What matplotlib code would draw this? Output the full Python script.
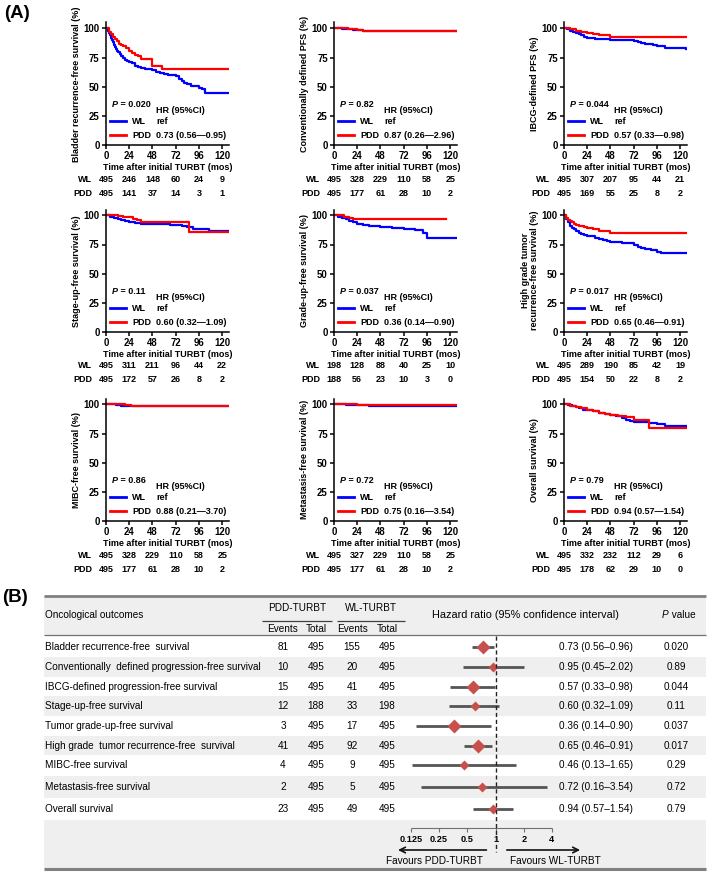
import matplotlib
matplotlib.use("Agg")
import matplotlib.pyplot as plt
import matplotlib.transforms as mtransforms
from matplotlib.lines import Line2D
import numpy as np

plt.rcParams['font.family'] = ['Liberation Sans Narrow', 'Liberation Sans', 'DejaVu Sans']

#### DATA panel A (KM curves)
months = [0, 24, 48, 72, 96, 120]

bladder_wl = ([0, 2, 3, 4, 5, 6, 7, 8, 9, 10, 11, 12, 14, 16, 18, 20, 22, 24, 27, 30, 33, 36, 40, 44, 48, 52, 56, 60, 64, 68, 72, 75, 78, 81, 84, 88, 92, 96, 99, 102, 126],
              [100, 98, 96, 94, 92, 90, 88, 86, 84, 82, 81, 80, 78, 76, 75, 73, 72, 71, 70, 68, 67, 66, 65, 65, 64, 63, 62, 61, 60, 60, 59, 57, 55, 53, 52, 51, 51, 49, 48, 45, 45])
bladder_pdd = ([0, 3, 5, 7, 9, 11, 13, 15, 18, 21, 24, 27, 30, 33, 36, 48, 58, 126],
               [100, 97, 95, 93, 91, 89, 87, 86, 85, 83, 81, 79, 77, 76, 74, 68, 65, 65])
conv_wl = ([0, 8, 14, 20, 30, 44, 126], [100, 99.6, 99.2, 98.4, 98, 97.4, 97.4])
conv_pdd = ([0, 14, 18, 24, 30, 36, 126], [100, 99.5, 99, 98.5, 98, 98, 98])
ibcg_wl = ([0, 3, 6, 9, 12, 15, 18, 21, 24, 28, 32, 36, 48, 60, 72, 76, 80, 84, 92, 96, 104, 126],
           [100, 99, 98, 97, 96, 95, 94, 93, 92, 91.5, 91, 90.5, 90, 90, 89.5, 88.5, 87.5, 87, 85.5, 85, 83, 82.5])
ibcg_pdd = ([0, 6, 12, 18, 24, 30, 36, 42, 48, 126], [100, 99, 98, 97, 96, 95, 94, 94, 92.5, 92.5])
stage_wl = ([0, 4, 8, 12, 16, 20, 24, 30, 36, 48, 60, 66, 72, 78, 84, 90, 106, 126],
            [100, 99, 98, 97, 96, 95, 94, 93.5, 93, 93, 92.5, 92, 91.5, 91, 90, 88.5, 86.5, 86.5])
stage_pdd = ([0, 12, 18, 24, 28, 32, 36, 86, 126], [100, 99.5, 99, 98.5, 97, 96, 94, 86, 86])
grade_wl = ([0, 4, 8, 12, 16, 20, 24, 30, 36, 48, 60, 72, 84, 92, 96, 126],
            [100, 99, 98, 96.5, 95.5, 94, 92.5, 91.5, 91, 90, 89, 88, 87.5, 85, 81, 81])
grade_pdd = ([0, 10, 15, 20, 116], [100, 99, 98, 97, 97])
hg_wl = ([0, 2, 4, 6, 8, 10, 12, 15, 18, 21, 24, 28, 32, 36, 40, 44, 48, 54, 60, 66, 72, 76, 80, 84, 90, 96, 100, 126],
         [100, 97, 94, 91, 89, 88, 87, 85, 84, 83, 82.5, 82, 81, 80, 79, 78, 77.5, 77, 76.5, 76, 75, 73, 72, 71, 70, 69, 68, 68])
hg_pdd = ([0, 2, 4, 6, 8, 10, 12, 15, 18, 21, 24, 30, 36, 42, 48, 126],
          [100, 98, 96, 95, 94, 93, 92, 91, 90.5, 90, 89, 88, 87, 87, 85, 85])
mibc_wl = ([0, 10, 16, 22, 126], [100, 99.5, 99, 98.5, 98.5])
mibc_pdd = ([0, 20, 26, 126], [100, 99.5, 99, 99])
meta_wl = ([0, 12, 24, 36, 44, 126], [100, 99.6, 99.2, 98.8, 98.4, 98.4])
meta_pdd = ([0, 24, 30, 126], [100, 99.6, 99.2, 99.2])
os_wl = ([0, 4, 8, 12, 16, 20, 24, 30, 36, 42, 48, 54, 60, 64, 68, 72, 80, 88, 96, 104, 126],
         [100, 99.5, 98.5, 97.5, 96.5, 95.5, 95, 94, 93, 92, 91, 90, 88, 87, 86, 85, 84.5, 84, 83, 81.5, 81.5])
os_pdd = ([0, 6, 12, 18, 24, 30, 36, 42, 48, 56, 64, 72, 88, 126],
          [100, 99, 98, 96.5, 95, 94, 93, 92, 91, 90, 89, 87, 80, 80])

km_wl = [bladder_wl, conv_wl, ibcg_wl, stage_wl, grade_wl, hg_wl, mibc_wl, meta_wl, os_wl]
km_pdd = [bladder_pdd, conv_pdd, ibcg_pdd, stage_pdd, grade_pdd, hg_pdd, mibc_pdd, meta_pdd, os_pdd]

ylabels = ["Bladder recurrence-free survival (%)", "Conventionally defined PFS (%)",
           "IBCG-defined PFS (%)", "Stage-up-free survival (%)", "Grade-up-free survival (%)",
           "High grade tumor\nrecurrence-free survival (%)", "MIBC-free survival (%)",
           "Metastasis-free survival (%)", "Overall survival (%)"]
p_km = ["0.020", "0.82", "0.044", "0.11", "0.037", "0.017", "0.86", "0.72", "0.79"]
hr_km = ["0.73 (0.56\u20140.95)", "0.87 (0.26\u20142.96)", "0.57 (0.33\u20140.98)",
         "0.60 (0.32\u20141.09)", "0.36 (0.14\u20140.90)", "0.65 (0.46\u20140.91)",
         "0.88 (0.21\u20143.70)", "0.75 (0.16\u20143.54)", "0.94 (0.57\u20141.54)"]
risk_wl = [[495, 246, 148, 60, 24, 9], [495, 328, 229, 110, 58, 25], [495, 307, 207, 95, 44, 21],
           [495, 311, 211, 96, 44, 22], [198, 128, 88, 40, 25, 10], [495, 289, 190, 85, 42, 19],
           [495, 328, 229, 110, 58, 25], [495, 327, 229, 110, 58, 25], [495, 332, 232, 112, 29, 6]]
risk_pdd = [[495, 141, 37, 14, 3, 1], [495, 177, 61, 28, 10, 2], [495, 169, 55, 25, 8, 2],
            [495, 172, 57, 26, 8, 2], [188, 56, 23, 10, 3, 0], [495, 154, 50, 22, 8, 2],
            [495, 177, 61, 28, 10, 2], [495, 177, 61, 28, 10, 2], [495, 178, 62, 29, 10, 0]]

#### DATA panel B (forest table)
outcomes = ["Bladder recurrence-free  survival", "Conventionally  defined progression-free survival",
            "IBCG-defined progression-free survival", "Stage-up-free survival",
            "Tumor grade-up-free survival", "High grade  tumor recurrence-free  survival",
            "MIBC-free survival", "Metastasis-free survival", "Overall survival"]
pdd_events = [81, 10, 15, 12, 3, 41, 4, 2, 23]
pdd_total = [495, 495, 495, 188, 495, 495, 495, 495, 495]
wl_events = [155, 20, 41, 33, 17, 92, 9, 5, 49]
wl_total = [495, 495, 495, 198, 495, 495, 495, 495, 495]
hr = [0.73, 0.95, 0.57, 0.60, 0.36, 0.65, 0.46, 0.72, 0.94]
hr_lo = [0.56, 0.45, 0.33, 0.32, 0.14, 0.46, 0.13, 0.16, 0.57]
hr_hi = [0.96, 2.02, 0.98, 1.09, 0.90, 0.91, 1.65, 3.54, 1.54]
p_tab = ["0.020", "0.89", "0.044", "0.11", "0.037", "0.017", "0.29", "0.72", "0.79"]
hr_ticks = [0.125, 0.25, 0.5, 1, 2, 4]
hr_tick_labels = ["0.125", "0.25", "0.5", "1", "2", "4"]

#%% FIGURE
W, H = 709, 874
fig = plt.figure(figsize=(W / 100, H / 100), dpi=100)

def px_axes(left, top, width, height):
    return fig.add_axes([left / W, 1 - (top + height) / H, width / W, height / H])

BLUE, RED = "#0000ff", "#ff0000"
fs = 6.5
col_left = [106, 334, 564]
row_origin = [145, 332, 521]
ax_w, ax_h = 123, 122.5

fig.text(4 / W, 1 - 14 / H, "(A)", fontsize=13.5, fontweight="bold", family="Liberation Sans", va="center")
fig.text(2 / W, 1 - 597 / H, "(B)", fontsize=13.5, fontweight="bold", family="Liberation Sans", va="center")

for i in range(9):
    r, c = divmod(i, 3)
    ax = px_axes(col_left[c], row_origin[r] - ax_h, ax_w, ax_h)
    t, s = km_wl[i]
    ax.step(t, s, where="post", color=BLUE, lw=1.6)
    t, s = km_pdd[i]
    ax.step(t, s, where="post", color=RED, lw=1.6)

    ax.set_xlim(0, 127)
    ax.set_ylim(0, 105)
    ax.set_xticks(months)
    ax.set_yticks([0, 25, 50, 75, 100])
    for sp in ["top", "right"]:
        ax.spines[sp].set_visible(False)
    for sp in ["left", "bottom"]:
        ax.spines[sp].set_linewidth(1.1)
    ax.tick_params(length=3, width=1.1, pad=1.5, labelsize=6.9)
    for lab in ax.get_xticklabels() + ax.get_yticklabels():
        lab.set_fontweight("bold")
    ax.set_xlabel("Time after initial TURBT (mos)", fontsize=fs, fontweight="bold", labelpad=1)
    ax.set_ylabel(ylabels[i], fontsize=fs, fontweight="bold", labelpad=2, linespacing=1.0)

    # legend block
    handles = [Line2D([], [], color=BLUE, lw=2), Line2D([], [], color=RED, lw=2)]
    ax.legend(handles, ["WL", "PDD"], loc="lower left", bbox_to_anchor=(0.035, 0.04),
              frameon=False, handlelength=1.7, handletextpad=0.7, labelspacing=0.55,
              borderpad=0, borderaxespad=0, prop=dict(weight="bold", size=fs))
    ax.text(52, 29.5, "HR (95%CI)", fontsize=fs, fontweight="bold", va="center")
    ax.text(52, 20.5, "ref", fontsize=fs, fontweight="bold", va="center")
    ax.text(52, 8.5, hr_km[i], fontsize=fs, fontweight="bold", va="center")
    tp = ax.text(6, 34.5, "P", fontsize=fs, fontweight="bold", style="italic", va="center")
    ax.annotate(" = " + p_km[i], xy=(1, 0), xycoords=tp, va="bottom", ha="left",
                fontsize=fs, fontweight="bold")

    # numbers at risk
    trans = mtransforms.blended_transform_factory(ax.transData, ax.transAxes)
    for name, vals, off in [("WL", risk_wl[i], 34), ("PDD", risk_pdd[i], 48)]:
        yy = -off / ax_h
        ax.text(-14 / ax_w, yy, name, transform=ax.transAxes, ha="right", va="center",
                fontsize=fs, fontweight="bold")
        for m, v in zip(months, vals):
            ax.text(m, yy, str(v), transform=trans, ha="center", va="center",
                    fontsize=fs, fontweight="bold")

#%% PANEL B
t_top, t_bot = 594, 872
axt = px_axes(0, t_top, W, t_bot - t_top)
axt.set_xlim(0, W)
axt.set_ylim(t_bot, t_top)
axt.axis("off")

tl, tr = 44, 706
row_y = [647, 667, 687, 706, 726, 746, 765, 787, 809]
row_edges = [636, 657, 677, 696, 716, 736, 755, 776, 798, 820]
gray = "#efefef"
axt.fill_between([tl, tr], 596, 635, color=gray, lw=0)
for k in range(9):
    if k % 2 == 1:
        axt.fill_between([tl, tr], row_edges[k], row_edges[k + 1], color=gray, lw=0)
axt.fill_between([tl, tr], row_edges[9], 869, color=gray, lw=0)

axt.hlines(596, tl, tr, color="#808080", lw=2)
axt.hlines(869, tl, tr, color="#808080", lw=2.2)
axt.hlines(635, tl, tr, color="#707070", lw=0.9)
axt.hlines(621, 262, 332, color="#404040", lw=0.9)
axt.hlines(621, 337, 405, color="#404040", lw=0.9)

tfs = 7.2
axt.text(45, 615, "Oncological outcomes", fontsize=tfs, va="center")
axt.text(297, 608, "PDD-TURBT", fontsize=tfs, va="center", ha="center")
axt.text(371, 608, "WL-TURBT", fontsize=tfs, va="center", ha="center")
for x, s in zip([283, 316, 352, 387], ["Events", "Total", "Events", "Total"]):
    axt.text(x, 629, s, fontsize=tfs, va="center", ha="center")
axt.text(525, 615, "Hazard ratio (95% confidence interval)", fontsize=7.8, va="center", ha="center")
tp = axt.text(662, 615, "P", fontsize=tfs, style="italic", va="center", ha="left")
axt.annotate(" value", xy=(1, 0), xycoords=tp, va="bottom", ha="left", fontsize=tfs)

for k in range(9):
    y = row_y[k]
    axt.text(45, y, outcomes[k], fontsize=tfs, va="center")
    for x, v in zip([283, 316, 352, 387], [pdd_events[k], pdd_total[k], wl_events[k], wl_total[k]]):
        axt.text(x, y, str(v), fontsize=tfs, va="center", ha="center")
    axt.text(596, y, "%.2f (%.2f\u2013%.2f)" % (hr[k], hr_lo[k], hr_hi[k]),
             fontsize=tfs, va="center", ha="center")
    axt.text(676, y, p_tab[k], fontsize=tfs, va="center", ha="center")

# forest part, log2 scale
x1, ppd = 495.5, 28.2
f_l, f_r = 380, 600
axf = px_axes(f_l, t_top, f_r - f_l, t_bot - t_top)
axf.set_xscale("log", base=2)
axf.set_xlim(2 ** ((f_l - x1) / ppd), 2 ** ((f_r - x1) / ppd))
axf.set_ylim(t_bot, t_top)
axf.axis("off")

box_ms = [7, 4.8, 6.8, 5.2, 6.8, 6.8, 5.2, 5.2, 5]
axf.hlines(row_y, hr_lo, hr_hi, color="#555555", lw=2.0, zorder=2)
for k in range(9):
    axf.plot(hr[k], row_y[k], marker="D", ms=box_ms[k], color="#c8504c", mec="none", zorder=3)
axf.vlines(1, 636, 852, color="#222222", lw=1.0, linestyles=(0, (3, 2)), zorder=4)

axf.hlines(828, hr_ticks[0], hr_ticks[-1], color="#707070", lw=0.8)
axf.vlines(hr_ticks, 828, 832, color="#707070", lw=0.8)
for x, s in zip(hr_ticks, hr_tick_labels):
    axf.text(x, 839, s, fontsize=6.6, fontweight="bold", ha="center", va="center")
axf.annotate("", xy=(2 ** ((398 - x1) / ppd), 850), xytext=(0.8, 850),
             arrowprops=dict(arrowstyle="->", lw=1.2, color="#111111", shrinkA=0, shrinkB=0))
axf.annotate("", xy=(8.0, 850), xytext=(1.32, 850),
             arrowprops=dict(arrowstyle="->", lw=1.2, color="#111111", shrinkA=0, shrinkB=0))
axf.text(0.74, 861, "Favours PDD-TURBT", fontsize=tfs, ha="right", va="center")
axf.text(1.43, 861, "Favours WL-TURBT", fontsize=tfs, ha="left", va="center")

plt.savefig("out.png", dpi=100)
